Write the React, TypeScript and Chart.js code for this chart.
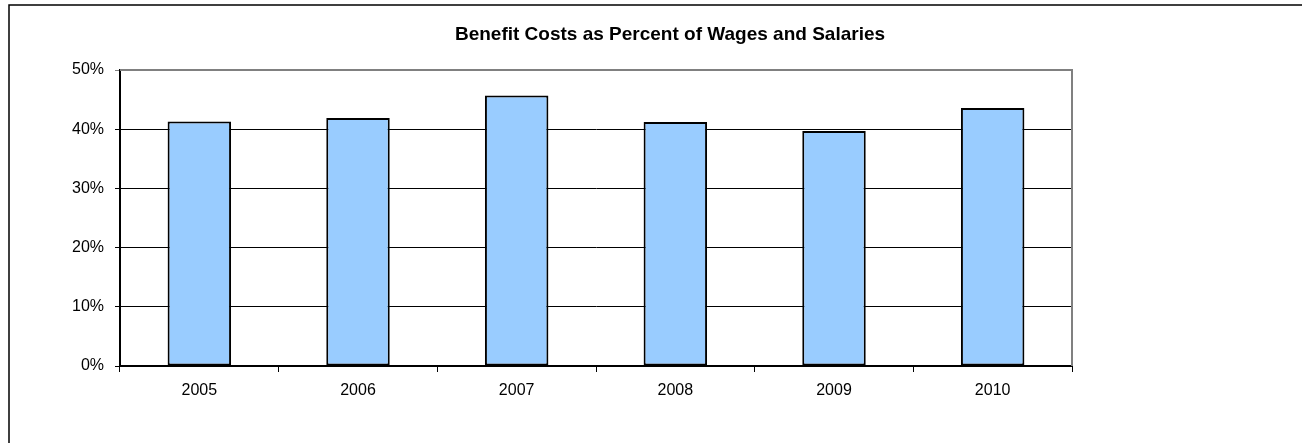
import React, { useEffect, useRef } from "react";
import { Chart, registerables } from "chart.js";

Chart.register(...registerables);

const TITLE = "Benefit Costs as Percent of Wages and Salaries";
const YEARS = ["2005", "2006", "2007", "2008", "2009", "2010"];
const BENEFIT_PCT = [41.3, 41.9, 45.7, 41.2, 39.7, 43.6];
const Y_MAX = 50;
const Y_STEP = 10;

const FONT = "'Liberation Sans', Arial, sans-serif";

const framePlugin = {
  id: "frame",
  beforeDraw(chart: any) {
    const { ctx } = chart;
    ctx.save();
    ctx.fillStyle = "#ffffff";
    ctx.fillRect(0, 0, chart.width, chart.height);
    ctx.strokeStyle = "#000000";
    ctx.lineWidth = 1.5;
    ctx.beginPath();
    ctx.moveTo(9, chart.height);
    ctx.lineTo(9, 5);
    ctx.lineTo(chart.width, 5);
    ctx.stroke();
    ctx.restore();
  },
  afterDatasetsDraw(chart: any) {
    const { ctx, chartArea } = chart;
    ctx.save();
    ctx.strokeStyle = "#808080";
    ctx.lineWidth = 2;
    ctx.beginPath();
    ctx.moveTo(chartArea.left, chartArea.top);
    ctx.lineTo(chartArea.right, chartArea.top);
    ctx.lineTo(chartArea.right, chartArea.bottom);
    ctx.stroke();
    ctx.fillStyle = "#000000";
    ctx.font = `bold 19px ${FONT}`;
    ctx.textAlign = "center";
    ctx.textBaseline = "middle";
    ctx.fillText(TITLE, 670, 35);
    ctx.restore();
  },
};

export default function App() {
  const ref = useRef<HTMLCanvasElement | null>(null);
  useEffect(() => {
    if (!ref.current) return;
    const chart = new Chart(ref.current, {
      type: "bar",
      data: {
        labels: YEARS,
        datasets: [
          {
            data: BENEFIT_PCT,
            backgroundColor: "#99ccff",
            borderColor: "#000000",
            borderWidth: 2,
            borderSkipped: false,
            categoryPercentage: 1,
            barPercentage: 0.4,
          },
        ],
      },
      options: {
        responsive: false,
        animation: false,
        events: [],
        layout: { padding: { left: 0, top: 70, right: 230, bottom: 0 } },
        plugins: {
          legend: { display: false },
          title: { display: false },
          tooltip: { enabled: false },
        },
        scales: {
          x: {
            afterFit: (s: any) => {
              s.height = 77;
            },
            offset: true,
            grid: {
              offset: true,
              drawOnChartArea: false,
              drawTicks: true,
              tickLength: 6,
              color: "#000000",
              lineWidth: 1,
            },
            border: { display: true, color: "#000000", width: 2 },
            ticks: {
              color: "#000000",
              font: { family: FONT, size: 16 },
              padding: 9,
              maxRotation: 0,
            },
          },
          y: {
            min: 0,
            max: Y_MAX,
            afterFit: (s: any) => {
              s.width = 120;
            },
            grid: {
              color: (c: any) => (c.tick && c.tick.value === Y_MAX ? "#808080" : "#000000"),
              lineWidth: 1,
              drawTicks: true,
              tickLength: 5,
            },
            border: { display: true, color: "#000000", width: 2 },
            ticks: {
              stepSize: Y_STEP,
              color: "#000000",
              font: { family: FONT, size: 16 },
              padding: 11,
              callback: (v: any) => `${v}%`,
            },
          },
        },
      },
      plugins: [framePlugin],
    });
    return () => chart.destroy();
  }, []);
  return (
    <div style={{ position: "fixed", left: 0, top: 0, width: 1302, height: 443 }}>
      <canvas ref={ref} width={1302} height={443} style={{ display: "block" }} />
    </div>
  );
}
